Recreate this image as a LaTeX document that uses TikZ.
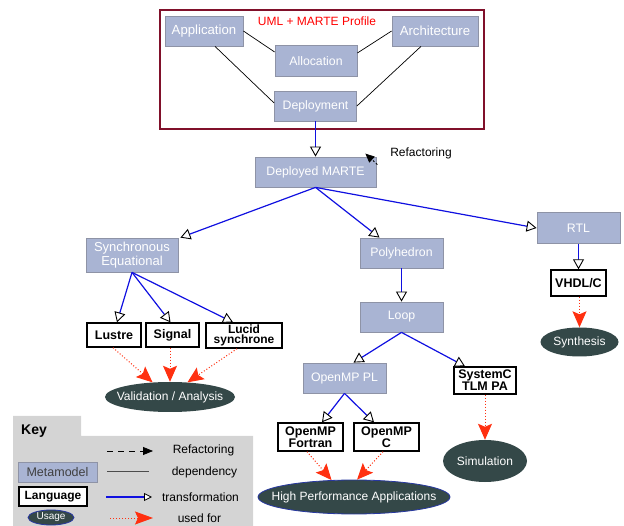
\documentclass[tikz,border=0pt]{standalone}
\usepackage{fontspec}
\setmainfont{Liberation Sans}
\usetikzlibrary{arrows.meta,shapes.geometric}
\definecolor{metafill}{HTML}{A9B4D3}
\definecolor{metaline}{HTML}{8E93A6}
\definecolor{usefill}{HTML}{344848}
\definecolor{redarr}{HTML}{FF3010}
\definecolor{transblue}{HTML}{1010E0}
\definecolor{framered}{HTML}{80102A}
\definecolor{keygray}{HTML}{D4D4D4}
\definecolor{ellline}{HTML}{2838A0}
\newcommand{\zw}[1]{\makebox[0pt]{#1}}
\begin{document}
\begin{tikzpicture}[x=1pt,y=-1pt,
 meta/.style={draw=metaline, fill=metafill, text=white, font=\fontsize{12.3}{13}\selectfont, inner sep=0pt, line width=0.8pt, align=center},
 bigmeta/.style={meta, font=\fontsize{13.2}{15}\selectfont},
 lang/.style={draw=black, fill=white, line width=1.4pt, font=\fontsize{12.5}{11}\selectfont\bfseries, inner sep=0pt, align=center},
 usage/.style={ellipse, fill=usefill, text=white, inner sep=0pt, font=\fontsize{12}{13}\selectfont},
 dep/.style={draw=black, line width=0.7pt},
 trans/.style={draw=transblue, line width=1.2pt, -{Triangle[length=10pt,width=11pt,color=black,fill=white,line width=0.9pt]}},
 used/.style={draw=redarr, line width=1pt, dotted, -{Stealth[length=16pt,width=14pt,inset=3pt,color=redarr]}},
 refac/.style={draw=black, line width=0.8pt, dash pattern=on 6pt off 5pt, -{Triangle[length=9pt,width=8pt]}},
 lbl/.style={font=\fontsize{12}{13}\selectfont, inner sep=0pt}
]
\useasboundingbox (0,0) rectangle (624,526);

% ---- UML + MARTE frame
\draw[framered, line width=1.2pt] (160,10) rectangle (484,129);
\node[lbl, text=red] (title) at (317,21) {UML + MARTE Profile};
\node[bigmeta, minimum width=78pt, minimum height=30pt] (app) at (204,31) {Application};
\node[bigmeta, minimum width=86pt, minimum height=30pt] (arch) at (435,31) {Architecture};
\node[meta, minimum width=82pt, minimum height=31pt] (alloc) at (316,61) {Allocation};
\node[meta, minimum width=82pt, minimum height=30pt] (depl) at (315.5,106) {Deployment};

\draw[dep] (app.east) -- ([yshift=9pt]alloc.west);
\draw[dep] ([xshift=11pt]app.south) -- ([yshift=3pt]depl.west);
\draw[dep] (arch.west) -- ([yshift=8pt]alloc.east);
\draw[dep] ([xshift=-14pt]arch.south) -- (depl.east);

% ---- main chain
\node[meta, minimum width=121pt, minimum height=30pt] (dm) at (315.5,172) {Deployed MARTE};
\node[lbl] (reflbl) at (421,153) {Refactoring};
\draw[refac, dash pattern=on 2pt off 2pt] ([shift={(1pt,-8pt)}]dm.north east) -- ([shift={(-11pt,3pt)}]dm.north east);

\node[bigmeta, minimum width=92pt, minimum height=34pt, font=\fontsize{13}{14}\selectfont] (se) at (132,255) {Synchronous\\Equational};
\node[meta, minimum width=83pt, minimum height=30pt] (poly) at (401.5,253) {Polyhedron};
\node[meta, minimum width=83pt, minimum height=31pt] (rtl) at (578.5,228) {RTL};

\draw[trans] (depl.south) -- (dm.north);
\draw[trans] (dm.south) -- ([xshift=2pt]se.north east);
\draw[trans] (dm.south) -- ([xshift=-22pt]poly.north);
\draw[trans] (dm.south) -- (rtl.west);

% synchronous languages
\node[lang, minimum width=54pt, minimum height=24pt] (lustre) at (114,335) {Lustre};
\node[lang, minimum width=53pt, minimum height=24pt] (signal) at (172.5,335) {Signal};
\node[lang, minimum width=76pt, minimum height=25pt, font=\fontsize{12}{10.5}\selectfont\bfseries] (lucid) at (244,335.5) {Lucid\\synchrone};
\draw[trans] (se.south) -- ([xshift=3pt]lustre.north);
\draw[trans] (se.south) -- ([xshift=-2pt]signal.north);
\draw[trans] (se.south) -- ([xshift=-11pt]lucid.north);

\node[usage, minimum width=130pt, minimum height=30pt] (va) at (170,397) {\zw{Validation / Analysis}};
\draw[used] ([xshift=-1pt]lustre.south) -- (va.140);
\draw[used] ([xshift=-2.5pt]signal.south) -- (va.north);
\draw[used] ([xshift=-7pt]lucid.south) -- (va.40);

% polyhedral chain
\node[meta, minimum width=83pt, minimum height=30pt] (loop) at (401.5,317) {Loop};
\draw[trans] (poly.south) -- (loop.north);
\node[meta, minimum width=83pt, minimum height=30pt] (omp) at (344.5,378) {OpenMP PL};
\node[lang, minimum width=62pt, minimum height=27pt] (sysc) at (485,380.5) {SystemC\\TLM PA};
\draw[trans] (loop.south) -- ([xshift=9pt]omp.north);
\draw[trans] (loop.south) -- ([xshift=-20pt]sysc.north);

\node[lang, minimum width=65pt, minimum height=28pt] (ompf) at (310.5,437) {OpenMP\\Fortran};
\node[lang, minimum width=65pt, minimum height=28pt] (ompc) at (386.5,437) {OpenMP\\C};
\draw[trans] (omp.south) -- ([xshift=11.5pt]ompf.north);
\draw[trans] (omp.south) -- ([xshift=-12.5pt]ompc.north);

\node[usage, draw=ellline, line width=0.8pt, minimum width=192pt, minimum height=34pt] (hpa) at (354,497) {\zw{High Performance Applications}};
\draw[used] ([xshift=-3.5pt]ompf.south) -- (hpa.143);
\draw[used] ([xshift=-3.5pt]ompc.south) -- (hpa.80);

\node[usage, minimum width=84pt, minimum height=42pt] (sim) at (485,461) {\zw{Simulation}};
\draw[used] (sysc.south) -- (sim.north);

% RTL chain
\node[lang, minimum width=55pt, minimum height=26pt] (vhdl) at (578.5,283) {VHDL/C};
\draw[trans] (rtl.south) -- (vhdl.north);
\node[usage, minimum width=78pt, minimum height=29pt] (syn) at (579.5,342) {\zw{Synthesis}};
\draw[used] ([xshift=1pt]vhdl.south) -- (syn.north);

% ---- Key
\fill[keygray] (13,416) -- (81,416) -- (81,436) -- (253,436) -- (253,526) -- (13,526) -- cycle;
\node[font=\fontsize{14}{16}\selectfont\bfseries, inner sep=0pt] (keytitle) at (34,431) {Key};

\coordinate (kr1) at (107,451);
\coordinate (kr2) at (153,451);
\draw[refac, -{Triangle[length=10pt,width=8pt]}] (kr1) -- (kr2);
\node[lbl] (krl) at (203.5,450) {Refactoring};

\node[meta, minimum width=79pt, minimum height=20pt, text=black!75, font=\fontsize{12.5}{13}\selectfont] (kmeta) at (57.5,472) {Metamodel};
\coordinate (kd1) at (107,471.5);
\coordinate (kd2) at (149,471.5);
\draw[dep, draw=black!70, line width=1pt] (kd1) -- (kd2);
\node[lbl] (kdl) at (204.5,472) {dependency};

\node[lang, minimum width=68pt, minimum height=19pt, font=\fontsize{12}{12}\selectfont\bfseries] (klang) at (53,496.5) {Language};
\coordinate (kt1) at (106,497);
\coordinate (kt2) at (152,497);
\draw[trans, -{Triangle[length=8pt,width=8pt,color=black,fill=white,line width=0.8pt]}] (kt1) -- (kt2);
\node[lbl] (ktl) at (200.5,497) {transformation};

\node[usage, draw=ellline, line width=0.8pt, minimum width=46pt, minimum height=15pt, font=\fontsize{10}{11}\selectfont] (kuse) at (51,517.5) {\zw{Usage}};
\coordinate (ku1) at (110,518);
\coordinate (ku2) at (153,518);
\draw[used, -{Stealth[length=18pt,width=13pt,inset=3pt,color=redarr]}] (ku1) -- (ku2);
\node[lbl] (kul) at (199.5,518) {used for};
\end{tikzpicture}
\end{document}
